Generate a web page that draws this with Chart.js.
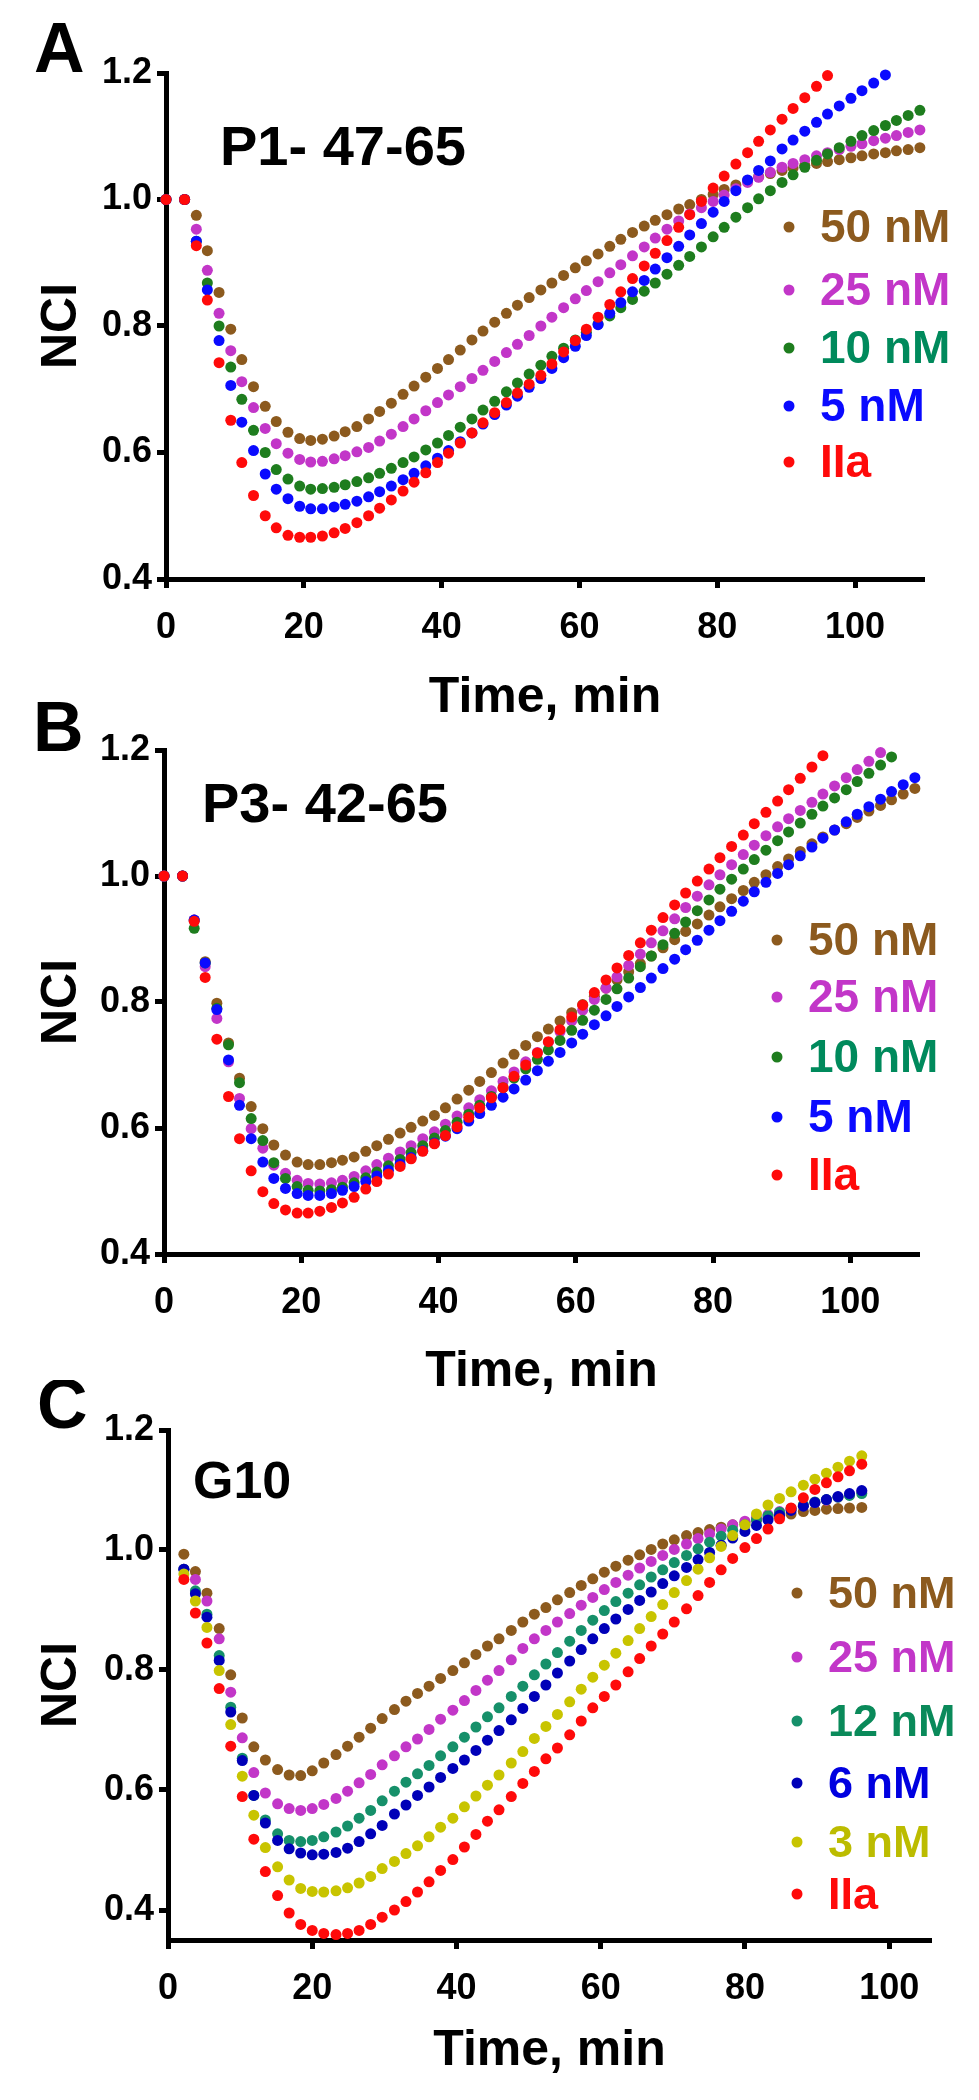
<!DOCTYPE html>
<html>
<head>
<meta charset="utf-8">
<title>NCI time course</title>
<script src="https://cdn.jsdelivr.net/npm/chart.js"></script>
<style>
  html, body { margin: 0; padding: 0; background: #fff; }
  .panel { position: absolute; left: 0; }
</style>
</head>
<body>
<canvas id="chartA" class="panel" width="979" height="740" style="top:0px"></canvas>
<canvas id="chartB" class="panel" width="979" height="740" style="top:690px"></canvas>
<canvas id="chartC" class="panel" width="979" height="720" style="top:1380px"></canvas>
<script>
// --- 1. data ---
const xTicks = [0, 20, 40, 60, 80, 100];
const yTicks = [0.4, 0.6, 0.8, 1.0, 1.2];

// time points for panels A and B (min)
const timeAB = [0, 2.7, 4.4, 6.0, 7.7, 9.4, 11.0, 12.7, 14.4, 16.0, 17.7, 19.4, 21.0, 22.7, 24.4, 26.0, 27.7, 29.4, 31.0, 32.7,
  34.4, 36.0, 37.7, 39.4, 41.0, 42.7, 44.4, 46.0, 47.7, 49.4, 51.0, 52.7, 54.4, 56.0, 57.7, 59.4, 61.0, 62.7, 64.4, 66.0,
  67.7, 69.4, 71.0, 72.7, 74.4, 76.0, 77.7, 79.4, 81.0, 82.7, 84.4, 86.0, 87.7, 89.4, 91.0, 92.7, 94.4, 96.0, 97.7, 99.4,
  101.0, 102.7, 104.4, 106.0, 107.7, 109.4];

// time points for panel C (min)
const timeC = [2.2, 3.8, 5.4, 7.1, 8.7, 10.3, 11.9, 13.5, 15.2, 16.8, 18.4, 20.0, 21.6, 23.3, 24.9, 26.5, 28.1, 29.7, 31.4, 33.0,
  34.6, 36.2, 37.8, 39.5, 41.1, 42.7, 44.3, 45.9, 47.6, 49.2, 50.8, 52.4, 54.0, 55.7, 57.3, 58.9, 60.5, 62.1, 63.8, 65.4,
  67.0, 68.6, 70.2, 71.9, 73.5, 75.1, 76.7, 78.3, 80.0, 81.6, 83.2, 84.8, 86.4, 88.1, 89.7, 91.3, 92.9, 94.5, 96.2];

// A: P1- 47-65
const a50 = [1.000, 1.000, 0.975, 0.919, 0.853, 0.795, 0.747, 0.704, 0.673, 0.649, 0.632, 0.622, 0.619, 0.621, 0.626, 0.633, 0.641, 0.653, 0.665, 0.678,
  0.692, 0.705, 0.719, 0.733, 0.747, 0.762, 0.778, 0.792, 0.806, 0.820, 0.833, 0.845, 0.857, 0.868, 0.880, 0.892, 0.903, 0.914, 0.926, 0.937,
  0.948, 0.958, 0.967, 0.976, 0.985, 0.992, 1.000, 1.008, 1.016, 1.023, 1.030, 1.036, 1.041, 1.046, 1.050, 1.054, 1.057, 1.060, 1.063, 1.066,
  1.069, 1.072, 1.074, 1.077, 1.079, 1.082];
const a25 = [1.000, 1.000, 0.953, 0.888, 0.820, 0.761, 0.712, 0.671, 0.638, 0.614, 0.599, 0.589, 0.585, 0.586, 0.590, 0.595, 0.601, 0.608, 0.618, 0.629,
  0.641, 0.653, 0.666, 0.679, 0.691, 0.704, 0.717, 0.730, 0.744, 0.758, 0.771, 0.785, 0.800, 0.814, 0.829, 0.843, 0.856, 0.870, 0.884, 0.897,
  0.911, 0.925, 0.939, 0.953, 0.966, 0.977, 0.987, 0.997, 1.007, 1.017, 1.027, 1.035, 1.043, 1.051, 1.057, 1.063, 1.069, 1.074, 1.079, 1.084,
  1.088, 1.093, 1.097, 1.101, 1.106, 1.110];
const a10 = [1.000, 1.000, 0.934, 0.868, 0.800, 0.735, 0.684, 0.635, 0.600, 0.573, 0.558, 0.547, 0.542, 0.543, 0.545, 0.549, 0.554, 0.560, 0.567, 0.575,
  0.584, 0.593, 0.604, 0.615, 0.627, 0.640, 0.653, 0.667, 0.681, 0.696, 0.710, 0.724, 0.738, 0.752, 0.765, 0.778, 0.790, 0.803, 0.816, 0.829,
  0.842, 0.855, 0.868, 0.882, 0.896, 0.910, 0.925, 0.941, 0.956, 0.972, 0.987, 1.001, 1.014, 1.027, 1.039, 1.051, 1.062, 1.072, 1.082, 1.092,
  1.101, 1.109, 1.117, 1.125, 1.133, 1.141];
const a5 = [1.000, 1.000, 0.934, 0.857, 0.777, 0.706, 0.648, 0.603, 0.566, 0.542, 0.527, 0.515, 0.511, 0.511, 0.514, 0.518, 0.523, 0.530, 0.538, 0.547,
  0.557, 0.567, 0.579, 0.591, 0.603, 0.617, 0.631, 0.645, 0.660, 0.675, 0.689, 0.703, 0.717, 0.733, 0.750, 0.768, 0.785, 0.802, 0.820, 0.837,
  0.854, 0.872, 0.890, 0.908, 0.926, 0.944, 0.962, 0.980, 0.997, 1.014, 1.031, 1.046, 1.061, 1.080, 1.094, 1.108, 1.122, 1.135, 1.148, 1.160,
  1.172, 1.184, 1.197];
const aIIa = [1.000, 1.000, 0.927, 0.841, 0.742, 0.651, 0.584, 0.532, 0.500, 0.481, 0.469, 0.466, 0.466, 0.468, 0.473, 0.480, 0.489, 0.500, 0.512, 0.525,
  0.539, 0.553, 0.568, 0.584, 0.599, 0.615, 0.631, 0.647, 0.663, 0.679, 0.694, 0.708, 0.722, 0.740, 0.759, 0.777, 0.795, 0.814, 0.834, 0.854,
  0.875, 0.895, 0.915, 0.935, 0.956, 0.976, 0.997, 1.018, 1.037, 1.056, 1.074, 1.092, 1.110, 1.127, 1.144, 1.161, 1.179, 1.196];

// B: P3- 42-65
const b50 = [1.000, 1.000, 0.930, 0.864, 0.798, 0.735, 0.679, 0.634, 0.599, 0.573, 0.557, 0.546, 0.542, 0.542, 0.545, 0.549, 0.554, 0.563, 0.572, 0.582,
  0.592, 0.601, 0.611, 0.620, 0.632, 0.646, 0.660, 0.674, 0.688, 0.703, 0.717, 0.731, 0.745, 0.757, 0.770, 0.783, 0.796, 0.809, 0.822, 0.835,
  0.848, 0.861, 0.873, 0.886, 0.899, 0.912, 0.924, 0.938, 0.951, 0.964, 0.977, 0.990, 1.002, 1.015, 1.027, 1.039, 1.051, 1.062, 1.073, 1.083,
  1.093, 1.103, 1.112, 1.121, 1.130, 1.139];
const b25 = [1.000, 1.000, 0.930, 0.856, 0.774, 0.705, 0.647, 0.599, 0.568, 0.541, 0.528, 0.517, 0.512, 0.511, 0.513, 0.517, 0.523, 0.532, 0.542, 0.552,
  0.562, 0.572, 0.583, 0.594, 0.606, 0.619, 0.632, 0.645, 0.659, 0.674, 0.689, 0.705, 0.720, 0.736, 0.753, 0.770, 0.787, 0.804, 0.822, 0.840,
  0.858, 0.876, 0.894, 0.913, 0.932, 0.950, 0.968, 0.986, 1.002, 1.018, 1.034, 1.049, 1.064, 1.078, 1.091, 1.104, 1.117, 1.130, 1.143, 1.156,
  1.169, 1.182, 1.196];
const b10 = [1.000, 1.000, 0.917, 0.862, 0.790, 0.732, 0.672, 0.615, 0.580, 0.545, 0.520, 0.507, 0.501, 0.500, 0.502, 0.506, 0.513, 0.521, 0.530, 0.540,
  0.550, 0.561, 0.572, 0.584, 0.596, 0.609, 0.622, 0.636, 0.650, 0.664, 0.679, 0.694, 0.709, 0.724, 0.739, 0.755, 0.771, 0.787, 0.804, 0.821,
  0.838, 0.856, 0.873, 0.891, 0.909, 0.927, 0.945, 0.962, 0.979, 0.995, 1.011, 1.026, 1.041, 1.056, 1.070, 1.084, 1.098, 1.111, 1.124, 1.137,
  1.150, 1.163, 1.176, 1.189];
const b5 = [1.000, 1.000, 0.930, 0.862, 0.788, 0.708, 0.636, 0.583, 0.546, 0.520, 0.504, 0.496, 0.493, 0.493, 0.496, 0.501, 0.507, 0.515, 0.524, 0.533,
  0.543, 0.553, 0.564, 0.576, 0.587, 0.599, 0.611, 0.623, 0.636, 0.649, 0.662, 0.676, 0.691, 0.706, 0.720, 0.735, 0.749, 0.764, 0.778, 0.793,
  0.808, 0.823, 0.838, 0.853, 0.868, 0.883, 0.898, 0.914, 0.929, 0.944, 0.960, 0.975, 0.990, 1.004, 1.018, 1.032, 1.046, 1.060, 1.073, 1.086,
  1.098, 1.110, 1.122, 1.134, 1.145, 1.156];
const bIIa = [1.000, 1.000, 0.928, 0.839, 0.741, 0.650, 0.583, 0.532, 0.499, 0.480, 0.470, 0.465, 0.465, 0.468, 0.474, 0.481, 0.490, 0.503, 0.515, 0.527,
  0.539, 0.551, 0.563, 0.575, 0.588, 0.602, 0.617, 0.632, 0.648, 0.664, 0.682, 0.700, 0.719, 0.737, 0.756, 0.776, 0.795, 0.815, 0.835, 0.854,
  0.874, 0.894, 0.914, 0.934, 0.954, 0.973, 0.992, 1.011, 1.029, 1.047, 1.065, 1.083, 1.101, 1.119, 1.137, 1.155, 1.173, 1.191];

// C: G10
const c50 = [0.993, 0.964, 0.928, 0.869, 0.792, 0.720, 0.672, 0.650, 0.634, 0.625, 0.624, 0.632, 0.645, 0.659, 0.673, 0.688, 0.703, 0.719, 0.734, 0.748,
  0.761, 0.773, 0.786, 0.799, 0.812, 0.826, 0.840, 0.852, 0.866, 0.880, 0.893, 0.904, 0.917, 0.929, 0.941, 0.952, 0.963, 0.973, 0.983, 0.992,
  1.001, 1.010, 1.017, 1.024, 1.029, 1.034, 1.038, 1.042, 1.046, 1.050, 1.053, 1.056, 1.060, 1.064, 1.066, 1.068, 1.069, 1.070, 1.071];
const c25 = [0.968, 0.951, 0.915, 0.852, 0.763, 0.687, 0.629, 0.595, 0.577, 0.569, 0.566, 0.569, 0.576, 0.586, 0.598, 0.612, 0.626, 0.642, 0.657, 0.672,
  0.685, 0.701, 0.718, 0.733, 0.749, 0.766, 0.783, 0.799, 0.817, 0.836, 0.852, 0.866, 0.880, 0.894, 0.908, 0.921, 0.934, 0.946, 0.958, 0.970,
  0.981, 0.991, 1.001, 1.010, 1.019, 1.027, 1.035, 1.042, 1.048, 1.054, 1.059, 1.064, 1.069, 1.074, 1.079, 1.083, 1.088, 1.092, 1.097];
const c12 = [0.968, 0.932, 0.893, 0.824, 0.738, 0.653, 0.591, 0.550, 0.527, 0.516, 0.514, 0.516, 0.522, 0.530, 0.540, 0.553, 0.566, 0.582, 0.598, 0.613,
  0.627, 0.641, 0.657, 0.672, 0.688, 0.705, 0.722, 0.737, 0.756, 0.773, 0.792, 0.810, 0.829, 0.848, 0.866, 0.883, 0.899, 0.914, 0.928, 0.942,
  0.955, 0.967, 0.979, 0.991, 1.002, 1.013, 1.023, 1.033, 1.042, 1.050, 1.057, 1.063, 1.069, 1.075, 1.080, 1.084, 1.088, 1.091, 1.094];
const c6 = [0.968, 0.927, 0.888, 0.816, 0.730, 0.649, 0.591, 0.545, 0.516, 0.502, 0.495, 0.492, 0.493, 0.496, 0.503, 0.514, 0.527, 0.541, 0.560, 0.575,
  0.591, 0.605, 0.621, 0.636, 0.650, 0.666, 0.683, 0.699, 0.717, 0.736, 0.756, 0.775, 0.795, 0.815, 0.834, 0.852, 0.869, 0.885, 0.901, 0.916,
  0.930, 0.944, 0.957, 0.971, 0.984, 0.996, 1.008, 1.020, 1.031, 1.041, 1.050, 1.058, 1.066, 1.073, 1.079, 1.084, 1.089, 1.094, 1.099];
const c3 = [0.960, 0.915, 0.871, 0.799, 0.709, 0.623, 0.558, 0.504, 0.472, 0.450, 0.436, 0.431, 0.430, 0.432, 0.437, 0.445, 0.456, 0.469, 0.481, 0.494,
  0.507, 0.522, 0.538, 0.553, 0.572, 0.590, 0.608, 0.625, 0.645, 0.664, 0.686, 0.706, 0.726, 0.747, 0.768, 0.788, 0.808, 0.828, 0.849, 0.869,
  0.889, 0.909, 0.929, 0.949, 0.968, 0.987, 1.006, 1.024, 1.042, 1.060, 1.075, 1.086, 1.097, 1.108, 1.118, 1.128, 1.138, 1.148, 1.157];
const cIIa = [0.951, 0.895, 0.845, 0.769, 0.673, 0.589, 0.518, 0.464, 0.424, 0.395, 0.376, 0.366, 0.361, 0.359, 0.361, 0.366, 0.376, 0.388, 0.400, 0.414,
  0.430, 0.447, 0.466, 0.484, 0.505, 0.526, 0.548, 0.567, 0.589, 0.611, 0.631, 0.652, 0.670, 0.692, 0.715, 0.737, 0.756, 0.775, 0.797, 0.819,
  0.840, 0.860, 0.880, 0.902, 0.924, 0.946, 0.967, 0.986, 1.004, 1.019, 1.035, 1.052, 1.070, 1.087, 1.101, 1.112, 1.122, 1.132, 1.143];

// --- 2. styles ---
const FONT = '"Liberation Sans", Arial, Helvetica, sans-serif';
const BROWN = '#8c5a1e', MAGENTA = '#c236c8', GREEN = '#1e7d1e', TEAL = '#16906a',
      BLUE = '#0a0aff', NAVY = '#0000b8', OLIVE = '#c8c400', RED = '#ff0a0a';

// panel letter, inset title, legend
function decor(cfg) {
  return {
    id: 'decor',
    afterDraw(chart) {
      const ctx = chart.ctx;
      ctx.save();
      ctx.fillStyle = '#000';
      ctx.textAlign = 'left';
      ctx.textBaseline = 'alphabetic';
      ctx.font = `bold 70px ${FONT}`;
      ctx.fillText(cfg.letter, cfg.letterX, cfg.letterY);
      ctx.font = `bold ${cfg.titleSize}px ${FONT}`;
      ctx.fillText(cfg.title, cfg.titleX, cfg.titleY);
      ctx.font = `bold ${cfg.legendSize}px ${FONT}`;
      chart.data.datasets.forEach((ds, i) => {
        const y = cfg.legendY[i];
        ctx.fillStyle = ds.backgroundColor;
        ctx.beginPath();
        ctx.arc(cfg.legendDotX, y, 5.5, 0, Math.PI * 2);
        ctx.fill();
        ctx.fillStyle = ds.textColor;
        ctx.fillText(ds.label, cfg.legendTextX, y + 15);
      });
      ctx.restore();
    }
  };
}

function axisStyle() {
  return {
    border: { display: true, width: 5, color: '#000' },
    grid: { drawOnChartArea: false, drawTicks: true, tickLength: 9, tickWidth: 5, color: '#000', tickColor: '#000' }
  };
}

// --- 3. build one panel ---
function makePanel(id, cfg) {
  return new Chart(document.getElementById(id), {
    type: 'scatter',
    data: {
      datasets: cfg.series.map(s => ({
        label: s.label,
        data: s.values.map((v, i) => ({ x: cfg.times[i], y: v })),
        backgroundColor: s.color,
        borderColor: s.color,
        pointBackgroundColor: s.color,
        pointBorderWidth: 0,
        borderWidth: 0,
        pointRadius: 5.5,
        pointHoverRadius: 5.5,
        clip: false,
        order: s.order,
        textColor: s.text
      }))
    },
    options: {
      responsive: false,
      animation: false,
      events: [],
      layout: { padding: { left: 0, top: cfg.top, right: cfg.right, bottom: 0 } },
      plugins: { legend: { display: false }, tooltip: { enabled: false } },
      scales: {
        x: Object.assign(axisStyle(), {
          type: 'linear', min: 0, max: cfg.xMax,
          afterBuildTicks: s => { s.ticks = xTicks.map(v => ({ value: v })); },
          afterFit: s => { s.height = cfg.xAxisH; },
          ticks: { color: '#000', padding: 18, maxRotation: 0, autoSkip: false,
                   font: { family: FONT, size: 36, weight: 'bold' }, callback: v => String(v) },
          title: { display: true, text: 'Time, min', color: '#000',
                   font: { family: FONT, size: 50, weight: 'bold' }, padding: { top: 0, bottom: cfg.xTitlePad } }
        }),
        y: Object.assign(axisStyle(), {
          type: 'linear', min: cfg.yMin, max: 1.2,
          afterBuildTicks: s => { s.ticks = yTicks.map(v => ({ value: v })); },
          afterFit: s => { s.width = cfg.left; },
          ticks: { color: '#000', padding: 5,
                   font: { family: FONT, size: 36, weight: 'bold' }, callback: v => v.toFixed(1) },
          title: { display: true, text: 'NCI', color: '#000',
                   font: { family: FONT, size: 50, weight: 'bold' }, padding: { top: 32, bottom: 0 } }
        })
      }
    },
    plugins: [decor(cfg)]
  });
}

// --- 4. the three panels ---
makePanel('chartA', {
  times: timeAB, xMax: 110, yMin: 0.4,
  left: 166, right: 55, top: 73, xAxisH: 161, xTitlePad: 12,
  letter: 'A', letterX: 34, letterY: 72,
  title: 'P1- 47-65', titleSize: 56, titleX: 220, titleY: 165,
  legendSize: 46, legendDotX: 789, legendTextX: 820, legendY: [227, 290, 348, 406, 462],
  series: [
    { label: '50 nM', values: a50, color: BROWN, text: BROWN, order: 5 },
    { label: '25 nM', values: a25, color: MAGENTA, text: MAGENTA, order: 4 },
    { label: '10 nM', values: a10, color: GREEN, text: '#008a5c', order: 3 },
    { label: '5 nM', values: a5, color: BLUE, text: BLUE, order: 2 },
    { label: 'IIa', values: aIIa, color: RED, text: RED, order: 1 }
  ]
});

makePanel('chartB', {
  times: timeAB, xMax: 110, yMin: 0.4,
  left: 164, right: 60, top: 60, xAxisH: 176, xTitlePad: 28,
  letter: 'B', letterX: 33, letterY: 61,
  title: 'P3- 42-65', titleSize: 56, titleX: 202, titleY: 132,
  legendSize: 46, legendDotX: 777, legendTextX: 808, legendY: [250, 307, 367, 427, 485],
  series: [
    { label: '50 nM', values: b50, color: BROWN, text: BROWN, order: 5 },
    { label: '25 nM', values: b25, color: MAGENTA, text: MAGENTA, order: 4 },
    { label: '10 nM', values: b10, color: GREEN, text: '#008a5c', order: 3 },
    { label: '5 nM', values: b5, color: BLUE, text: BLUE, order: 2 },
    { label: 'IIa', values: bIIa, color: RED, text: RED, order: 1 }
  ]
});

makePanel('chartC', {
  times: timeC, xMax: 105.8, yMin: 0.35,
  left: 168, right: 48, top: 50, xAxisH: 160, xTitlePad: 19,
  letter: 'C', letterX: 37, letterY: 48,
  title: 'G10', titleSize: 52, titleX: 193, titleY: 118,
  legendSize: 45, legendDotX: 797, legendTextX: 828, legendY: [213, 277, 341, 403, 462, 514],
  series: [
    { label: '50 nM', values: c50, color: BROWN, text: BROWN, order: 6 },
    { label: '25 nM', values: c25, color: MAGENTA, text: MAGENTA, order: 5 },
    { label: '12 nM', values: c12, color: TEAL, text: '#0a8a5a', order: 4 },
    { label: '6 nM', values: c6, color: NAVY, text: '#0000e0', order: 3 },
    { label: '3 nM', values: c3, color: OLIVE, text: '#bcbc00', order: 2 },
    { label: 'IIa', values: cIIa, color: RED, text: RED, order: 1 }
  ]
});
</script>
</body>
</html>
